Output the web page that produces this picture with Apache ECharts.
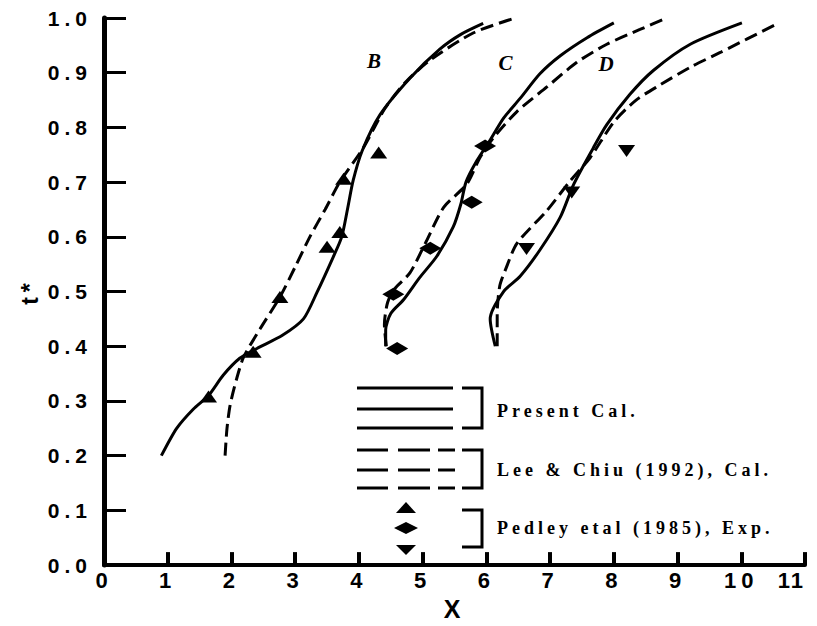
<!DOCTYPE html>
<html>
<head>
<meta charset="utf-8">
<script src="https://cdn.jsdelivr.net/npm/echarts@6/dist/echarts.min.js"></script>
<style>
  html, body { margin: 0; padding: 0; background: #fff; }
  #chart { width: 817px; height: 626px; }
</style>
</head>
<body>
<div id="chart"></div>
<script>
// curves: [x, t*]
var bPresent = [[0.90,0.20],[1.14,0.25],[1.40,0.285],[1.64,0.31],[1.87,0.347],[2.13,0.378],[2.40,0.396],[2.80,0.42],[3.13,0.45],[3.34,0.498],[3.60,0.564],[3.73,0.60],[3.82,0.65],[3.91,0.703],[4.05,0.757],[4.33,0.823],[4.80,0.89],[5.27,0.943],[5.60,0.97],[5.95,0.99]];
var bLee = [[1.90,0.20],[1.93,0.25],[1.98,0.293],[2.08,0.34],[2.19,0.38],[2.45,0.432],[2.76,0.49],[3.00,0.545],[3.23,0.60],[3.47,0.65],[3.70,0.70],[4.07,0.763],[4.41,0.835],[4.75,0.885],[5.14,0.925],[5.80,0.973],[6.40,0.998]];
var bExp = [[1.64,0.308],[2.34,0.39],[2.76,0.49],[3.50,0.582],[3.70,0.609],[3.76,0.706],[4.31,0.754]];

var cPresent = [[4.42,0.40],[4.42,0.43],[4.50,0.46],[4.70,0.485],[4.95,0.525],[5.22,0.564],[5.48,0.618],[5.60,0.66],[5.68,0.70],[5.85,0.739],[6.05,0.775],[6.27,0.817],[6.53,0.853],[6.84,0.898],[7.16,0.931],[7.58,0.964],[8.00,0.991]];
var cLee = [[4.43,0.40],[4.40,0.44],[4.45,0.48],[4.56,0.505],[4.80,0.534],[5.05,0.59],[5.33,0.654],[5.69,0.696],[5.90,0.745],[6.11,0.781],[6.48,0.829],[6.95,0.874],[7.42,0.919],[7.89,0.952],[8.41,0.979],[8.83,1.0]];
var cExp = [[4.60,0.396],[4.54,0.495],[5.12,0.579],[5.77,0.663],[5.98,0.766]];

var dPresent = [[6.14,0.40],[6.06,0.45],[6.27,0.50],[6.53,0.528],[6.84,0.576],[7.16,0.636],[7.37,0.696],[7.68,0.763],[7.89,0.805],[8.25,0.86],[8.62,0.904],[9.20,0.952],[10.01,0.991]];
var dLee = [[6.17,0.40],[6.17,0.46],[6.21,0.51],[6.30,0.54],[6.48,0.588],[6.95,0.648],[7.30,0.70],[7.63,0.745],[8.00,0.81],[8.35,0.85],[8.73,0.878],[9.20,0.91],[9.67,0.937],[10.59,0.991]];
var dExp = [[6.63,0.578],[7.34,0.681],[8.20,0.757]];

var caseNames = ["B", "C", "D"];
var caseLabelAt = [[4.27,0.921],[6.33,0.918],[7.91,0.916]];

var legendTexts = ["Present Cal.", "Lee & Chiu (1992), Cal.", "Pedley etal (1985), Exp."];

var chart = echarts.init(document.getElementById("chart"), null, { renderer: "svg" });

var sans = "Liberation Sans";
var serif = "Liberation Serif";
var dash = [13, 6];

function solid(name, data) {
  return { name: name, type: "line", data: data, symbol: "none", smooth: 0.25,
    lineStyle: { color: "#000", width: 3 }, z: 3 };
}
function dashed(name, data) {
  return { name: name, type: "line", data: data, symbol: "none", smooth: 0.25,
    lineStyle: { color: "#000", width: 3, type: dash }, z: 3 };
}
function marks(name, data, symbol, size, rot) {
  return { name: name, type: "scatter", data: data, symbol: symbol, symbolSize: size,
    symbolRotate: rot || 0, itemStyle: { color: "#000", opacity: 1 }, z: 4 };
}

// legend block (drawn by hand, like the figure)
var g = [];
function hline(x1, x2, y) {
  g.push({ type: "line", shape: { x1: x1, y1: y, x2: x2, y2: y }, style: { stroke: "#000", lineWidth: 3 } });
}
function bracket(y1, y2) {
  g.push({ type: "polyline", shape: { points: [[462, y1], [482, y1], [482, y2], [462, y2]] },
    style: { stroke: "#000", lineWidth: 3, fill: null } });
}
[388, 409, 428].forEach(function (y) { hline(357, 453, y); });
bracket(388, 428);
[450, 470, 488].forEach(function (y) { hline(357, 388, y); hline(398, 430, y); hline(438, 455, y); });
bracket(450, 488);
g.push({ type: "polygon", shape: { points: [[396, 513], [406, 502], [416, 513]] }, style: { fill: "#000" } });
g.push({ type: "polygon", shape: { points: [[394, 528], [406, 522], [418, 528], [406, 534]] }, style: { fill: "#000" } });
g.push({ type: "polygon", shape: { points: [[396, 545], [416, 545], [406, 555]] }, style: { fill: "#000" } });
bracket(510, 547);
[411, 470, 528].forEach(function (y, i) {
  g.push({ type: "text", x: 497, y: y, style: { text: legendTexts[i], fill: "#000",
    fontFamily: serif, fontWeight: "bold", fontSize: 18, verticalAlign: "middle", align: "left" } });
});

var option = {
  animation: false,
  backgroundColor: "#fff",
  grid: { left: 104, right: 12, top: 18, bottom: 53.5 },
  xAxis: {
    type: "value", min: 0, max: 11, interval: 1,
    name: "X", nameLocation: "middle", nameGap: 21,
    nameTextStyle: { color: "#000", fontFamily: sans, fontWeight: "bold", fontSize: 25 },
    axisLine: { lineStyle: { color: "#000", width: 4 } },
    axisTick: { inside: true, length: 13, lineStyle: { color: "#000", width: 4 } },
    axisLabel: { margin: 4, color: "#000", fontFamily: sans, fontWeight: "bold", fontSize: 22,
      alignMaxLabel: "right" },
    splitLine: { show: false }
  },
  yAxis: {
    type: "value", min: 0, max: 1, interval: 0.1,
    name: "t*", nameLocation: "middle", nameGap: 63,
    nameTextStyle: { color: "#000", fontFamily: sans, fontWeight: "bold", fontSize: 23 },
    axisLine: { lineStyle: { color: "#000", width: 5 } },
    axisTick: { inside: true, length: 22, lineStyle: { color: "#000", width: 3 } },
    axisLabel: { margin: 12, color: "#000", fontFamily: sans, fontWeight: "bold", fontSize: 21,
      formatter: function (v) { return v.toFixed(1); } },
    splitLine: { show: false }
  },
  graphic: g,
  series: [
    solid("B Present Cal.", bPresent),
    dashed("B Lee & Chiu", bLee),
    marks("B Pedley", bExp, "triangle", [17, 12]),
    solid("C Present Cal.", cPresent),
    dashed("C Lee & Chiu", cLee),
    marks("C Pedley", cExp, "diamond", [22, 13]),
    solid("D Present Cal.", dPresent),
    dashed("D Lee & Chiu", dLee),
    marks("D Pedley", dExp, "triangle", [17, 12], 180),
    {
      name: "case labels", type: "scatter", symbolSize: 0, z: 5,
      itemStyle: { opacity: 1 },
      data: caseNames.map(function (n, i) { return { name: n, value: caseLabelAt[i] }; }),
      label: { show: true, position: "inside", formatter: "{b}", color: "#000",
        fontFamily: serif, fontStyle: "italic", fontWeight: "bold", fontSize: 21 }
    }
  ]
};

chart.setOption(option);

// the figure uses widely tracked lettering
function spaceText() {
  var list = document.querySelectorAll("#chart svg text");
  for (var i = 0; i < list.length; i++) {
    var ff = getComputedStyle(list[i]).fontFamily || "";
    var sp = ff.indexOf("Serif") >= 0 ? "4px" : "5px";
    if (list[i].textContent === "11") sp = "2px"; // last x label sits at the edge
    list[i].style.letterSpacing = sp;
  }
}
spaceText();
chart.on("finished", spaceText);
setTimeout(spaceText, 50);
</script>
</body>
</html>
